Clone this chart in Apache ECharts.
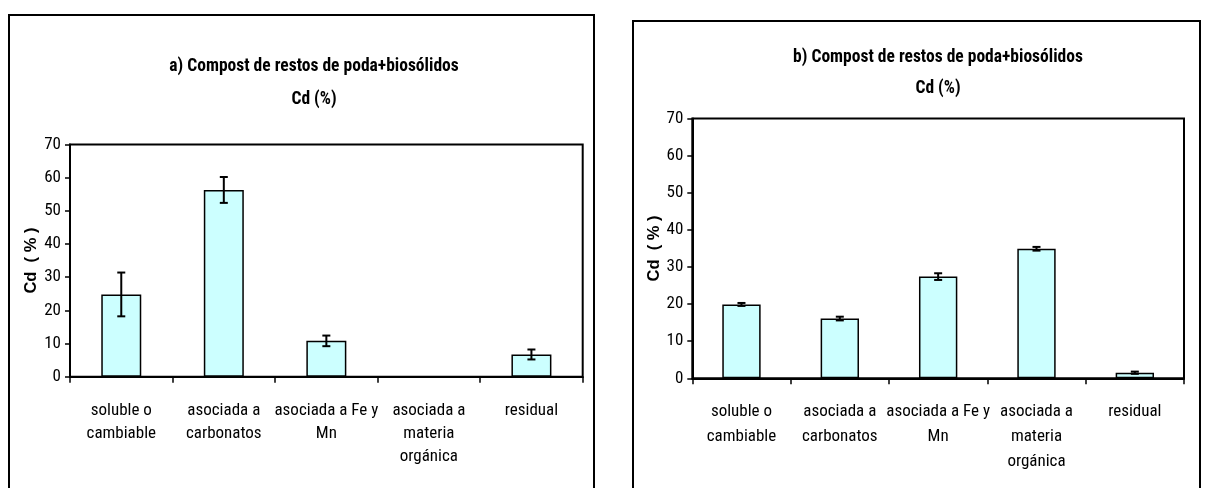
<!DOCTYPE html>
<html>
<head>
<meta charset="utf-8">
<script src="https://cdn.jsdelivr.net/npm/echarts@6/dist/echarts.min.js"></script>
<style>
  html, body { margin: 0; padding: 0; background: #fff; }
  #chart { width: 1207px; height: 488px; }
</style>
</head>
<body>
<div id="chart"></div>
<script>
// Cd fractionation (sequential extraction), two compost samples
const categories = ['soluble o\ncambiable', 'asociada a\ncarbonatos', 'asociada a Fe y\nMn', 'asociada a\nmateria\norgánica', 'residual'];

// a) mean Cd (%) per fraction and its error
const meanA = [24.8, 56.3, 10.8, 0, 6.7];
const errA = [6.6, 3.9, 1.6, 0, 1.5];

// b) mean Cd (%) per fraction and its error
const meanB = [19.9, 16.1, 27.4, 34.9, 1.5];
const errB = [0.4, 0.5, 0.9, 0.5, 0.3];

const titleA = 'a) Compost de restos de poda+biosólidos\nCd (%)';
const titleB = 'b) Compost de restos de poda+biosólidos\nCd (%)';
const yName = 'Cd  ( % )';
const yMin = 0, yMax = 70, yStep = 10;

const NARROW = "'Roboto Condensed', 'Open Sans Condensed', 'Liberation Sans Narrow', sans-serif";
const WIDE = "'Liberation Sans', Arial, sans-serif";

function errorBars(params, api) {
  const e = api.value(2);
  if (!e) return null;
  const m = api.value(1);
  const i = api.value(0);
  const top = api.coord([i, m + e]);
  const bot = api.coord([i, m - e]);
  const hw = 4;
  const st = { stroke: '#000', lineWidth: 2 };
  return {
    type: 'group',
    children: [
      { type: 'line', shape: { x1: top[0], y1: top[1], x2: bot[0], y2: bot[1] }, style: st },
      { type: 'line', shape: { x1: top[0] - hw, y1: top[1], x2: top[0] + hw, y2: top[1] }, style: st },
      { type: 'line', shape: { x1: bot[0] - hw, y1: bot[1], x2: bot[0] + hw, y2: bot[1] }, style: st }
    ]
  };
}

function xAxis(gridIndex, margin, lh) {
  return {
    type: 'category',
    gridIndex,
    data: categories,
    boundaryGap: true,
    axisLine: { lineStyle: { color: '#000', width: 2 } },
    axisTick: { show: true, length: 6, interval: 0, lineStyle: { color: '#000', width: 1.5 } },
    axisLabel: { interval: 0, margin, color: '#000', fontFamily: NARROW, fontSize: 17, lineHeight: lh, align: 'center' },
    splitLine: { show: false }
  };
}

function yAxis(gridIndex, nameGap) {
  return {
    type: 'value',
    gridIndex,
    min: yMin, max: yMax, interval: yStep,
    name: yName,
    nameLocation: 'middle',
    nameGap,
    nameRotate: 90,
    nameTextStyle: { color: '#000', fontFamily: WIDE, fontWeight: 'bold', fontSize: 16.5 },
    axisLine: { show: true, lineStyle: { color: '#000', width: 2 } },
    axisTick: { show: true, length: 5, lineStyle: { color: '#000', width: 1.5 } },
    axisLabel: { margin: 9, color: '#000', fontFamily: NARROW, fontSize: 17 },
    splitLine: { show: false }
  };
}

function bars(idx, data) {
  return {
    type: 'bar',
    xAxisIndex: idx, yAxisIndex: idx,
    data,
    barWidth: '39%',
    itemStyle: { color: '#CCFFFF', borderColor: '#000', borderWidth: 1.5 },
    animation: false
  };
}

function errs(idx, means, sd) {
  return {
    type: 'custom',
    xAxisIndex: idx, yAxisIndex: idx,
    data: means.map((m, i) => [i, m, sd[i]]),
    encode: { x: 0, y: 1 },
    renderItem: errorBars,
    z: 5,
    animation: false
  };
}

const chart = echarts.init(document.getElementById('chart'), null, { renderer: 'canvas' });
chart.setOption({
  backgroundColor: '#fff',
  animation: false,
  title: [
    {
      text: titleA, left: 309, top: 45, textAlign: 'center',
      textStyle: { color: '#000', fontFamily: NARROW, fontWeight: 'bold', fontSize: 17.5, lineHeight: 33 }
    },
    {
      text: titleB, left: 933, top: 37, textAlign: 'center',
      textStyle: { color: '#000', fontFamily: NARROW, fontWeight: 'bold', fontSize: 17.5, lineHeight: 31 }
    }
  ],
  graphic: [
    { type: 'rect', shape: { x: 9, y: 15, width: 585, height: 500 }, style: { fill: null, stroke: '#000', lineWidth: 2 }, silent: true },
    { type: 'rect', shape: { x: 633, y: 21, width: 567, height: 500 }, style: { fill: null, stroke: '#000', lineWidth: 2 }, silent: true }
  ],
  grid: [
    { left: 70, top: 144.5, width: 512.7, height: 232.2, show: true, borderColor: '#000', borderWidth: 2, backgroundColor: 'transparent' },
    { left: 692.3, top: 118.5, width: 491.7, height: 259.8, show: true, borderColor: '#000', borderWidth: 2, backgroundColor: 'transparent' }
  ],
  xAxis: [xAxis(0, 23, 23), xAxis(1, 21, 25)],
  yAxis: [yAxis(0, 23), yAxis(1, 28)],
  series: [
    bars(0, meanA), errs(0, meanA, errA),
    bars(1, meanB), errs(1, meanB, errB)
  ]
});
</script>
</body>
</html>
